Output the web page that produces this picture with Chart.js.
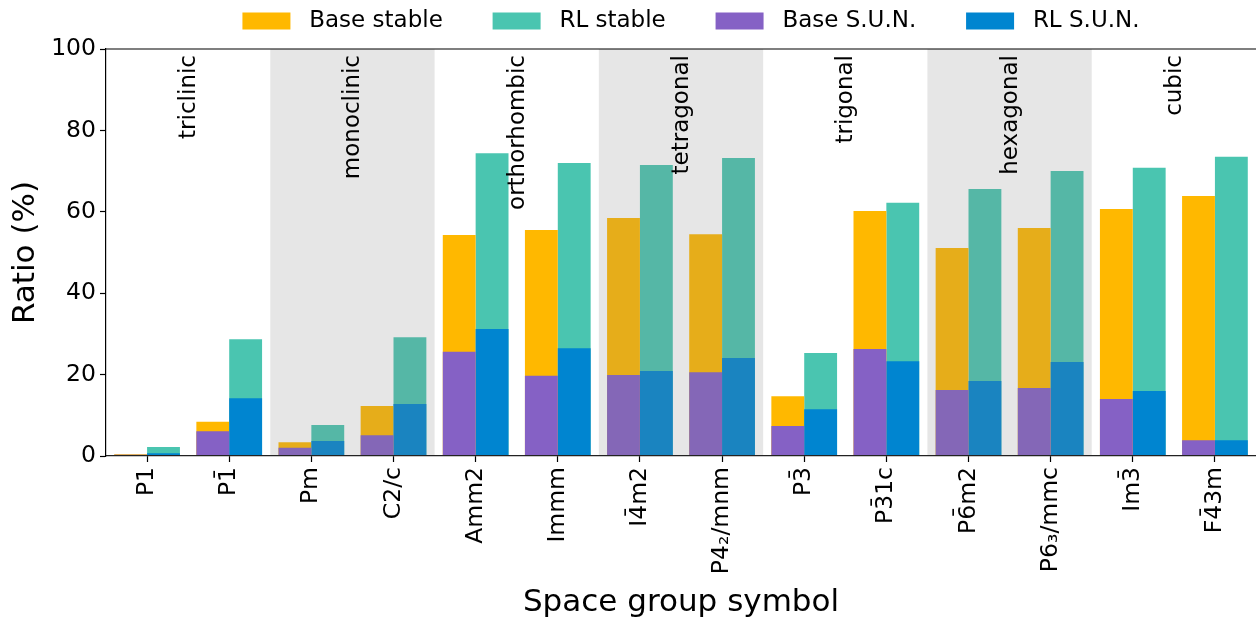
<!DOCTYPE html>
<html>
<head>
<meta charset="utf-8">
<script src="https://cdn.jsdelivr.net/npm/chart.js@4/dist/chart.umd.min.js"></script>
<style>
  html, body { margin: 0; padding: 0; background: #fff; }
  #wrap { width: 1256px; height: 620px; }
</style>
</head>
<body>
<div id="wrap"><canvas id="c" width="1256" height="620"></canvas></div>
<script>
// Space groups on the x axis, two per crystal system
const spaceGroups = ['P1', 'P1\u0304', 'Pm', 'C2/c', 'Amm2', 'Immm', 'I4\u0304m2', 'P4\u2082/mnm',
                     'P3\u0304', 'P3\u03041c', 'P6\u0304m2', 'P6\u2083/mmc', 'Im3\u0304', 'F4\u03043m'];
const crystalSystems = ['triclinic', 'monoclinic', 'orthorhombic', 'tetragonal', 'trigonal', 'hexagonal', 'cubic'];
const shadedSystems = ['monoclinic', 'tetragonal', 'hexagonal'];
const yTicks = [0, 20, 40, 60, 80, 100];

// Ratios in percent
const baseStable = [0.4, 8.4, 3.4, 12.3, 54.3, 55.5, 58.5, 54.5, 14.7, 60.2, 51.1, 56.0, 60.7, 63.9];
const rlStable   = [2.2, 28.7, 7.6, 29.2, 74.4, 72.0, 71.5, 73.2, 25.3, 62.2, 65.6, 70.0, 70.8, 73.5];
const baseSUN    = [0.3, 6.1, 2.0, 5.1, 25.6, 19.7, 19.9, 20.6, 7.4, 26.3, 16.2, 16.7, 14.0, 3.9];
const rlSUN      = [0.7, 14.2, 3.7, 12.8, 31.2, 26.5, 20.9, 24.1, 11.5, 23.3, 18.4, 23.1, 16.0, 3.9];

const FONT = '"DejaVu Sans", "Liberation Sans", sans-serif';
const COLORS = { baseStable: '#FFB800', rlStable: '#4AC5B0', baseSUN: '#8561C5', rlSUN: '#0085D0' };

// Shaded bands over alternating crystal systems, the system names, and the top spine
const systemDecor = {
  id: 'systemDecor',
  afterLayout(chart) {
    // center the legend row over the plot area
    const lg = chart.legend;
    if (lg) { lg.left += 10; lg.right += 10; lg.top += 1.5; lg.bottom += 1.5; }
  },
  afterDatasetsDraw(chart) {
    const { ctx, chartArea: a, scales: { x } } = chart;
    ctx.save();
    ctx.fillStyle = 'rgba(128,128,128,0.2)';
    crystalSystems.forEach((name, i) => {
      if (!shadedSystems.includes(name)) return;
      const x0 = x.getPixelForValue(2 * i - 0.5);
      const x1 = x.getPixelForValue(2 * i + 1.5);
      ctx.fillRect(x0, a.top, x1 - x0, a.bottom - a.top);
    });
    ctx.restore();
  },
  afterDraw(chart) {
    const { ctx, chartArea: a, scales: { x } } = chart;
    ctx.save();
    ctx.fillStyle = '#000';
    ctx.font = '23px ' + FONT;
    ctx.textAlign = 'right';
    ctx.textBaseline = 'middle';
    crystalSystems.forEach((name, i) => {
      const cx = x.getPixelForValue(2 * i + 0.5);
      ctx.save();
      ctx.translate(cx + 1, a.top + 6);
      ctx.rotate(-Math.PI / 2);
      ctx.fillText(name, 0, 0);
      ctx.restore();
    });
    ctx.strokeStyle = '#000';
    ctx.lineWidth = 1.2;
    ctx.beginPath();
    ctx.moveTo(a.left, a.top);
    ctx.lineTo(a.right, a.top);
    ctx.stroke();
    ctx.restore();
  }
};

const legendText = ['Base stable', 'RL stable', 'Base S.U.N.', 'RL S.U.N.'];

new Chart(document.getElementById('c'), {
  type: 'bar',
  data: {
    labels: spaceGroups,
    datasets: [
      { label: 'Base stable', data: baseStable, backgroundColor: COLORS.baseStable, stack: 'base', order: 2 },
      { label: 'RL stable',   data: rlStable,   backgroundColor: COLORS.rlStable,   stack: 'rl',   order: 2 },
      { label: 'Base S.U.N.', data: baseSUN,    backgroundColor: COLORS.baseSUN,    stack: 'base', order: 1 },
      { label: 'RL S.U.N.',   data: rlSUN,      backgroundColor: COLORS.rlSUN,      stack: 'rl',   order: 1 }
    ]
  },
  options: {
    responsive: false,
    devicePixelRatio: 1,
    animation: false,
    layout: { padding: 0 },
    datasets: { bar: { categoryPercentage: 0.8, barPercentage: 1.0, borderWidth: 0 } },
    plugins: {
      tooltip: { enabled: false },
      title: {
        display: true, text: '', position: 'top', weight: 500,
        font: { size: 1, lineHeight: 1 }, padding: { top: 0, bottom: 7 }
      },
      legend: {
        display: true,
        position: 'top',
        fullSize: false,
        align: 'center',
        labels: {
          color: '#000',
          font: { family: FONT, size: 23 },
          boxWidth: 48,
          boxHeight: 17,
          padding: 8,
          sort: (a, b) => a.datasetIndex - b.datasetIndex,
          generateLabels(chart) {
            const items = Chart.defaults.plugins.legend.labels.generateLabels(chart);
            items.forEach(it => {
              const last = it.datasetIndex === legendText.length - 1;
              it.text = ' ' + legendText[it.datasetIndex] + (last ? '' : '\u2003\u2002 ');
              it.lineWidth = 0;
            });
            return items;
          }
        }
      }
    },
    scales: {
      x: {
        offset: true,
        grid: { display: true, offset: false, drawOnChartArea: false, drawTicks: true, tickLength: 6, color: '#000', tickWidth: 1.2 },
        border: { display: true, color: '#222', width: 1.2, z: 1 },
        ticks: { color: '#000', font: { family: FONT, size: 23.5 }, maxRotation: 90, minRotation: 90, autoSkip: false, padding: 5 },
        title: { display: true, text: 'Space group symbol', color: '#000', font: { family: FONT, size: 31, lineHeight: 1 }, padding: { top: 0, bottom: 1.5 } },
        afterFit(scale) { scale.height = 164; }
      },
      y: {
        stacked: false,
        min: 0,
        max: 100,
        afterBuildTicks(scale) { scale.ticks = yTicks.map(v => ({ value: v })); },
        grid: { display: true, drawOnChartArea: false, drawTicks: true, tickLength: 6, color: '#000', tickWidth: 1.2 },
        border: { display: true, color: '#000', width: 1.2, z: 1 },
        ticks: { color: '#000', font: { family: FONT, size: 23.5 }, padding: 4 },
        title: { display: true, text: 'Ratio (%)', color: '#000', font: { family: FONT, size: 31, lineHeight: 1.2 }, padding: { top: 7.4, bottom: 0 } },
        afterFit(scale) { scale.width = 106; }
      }
    }
  },
  plugins: [systemDecor]
});
</script>
</body>
</html>
